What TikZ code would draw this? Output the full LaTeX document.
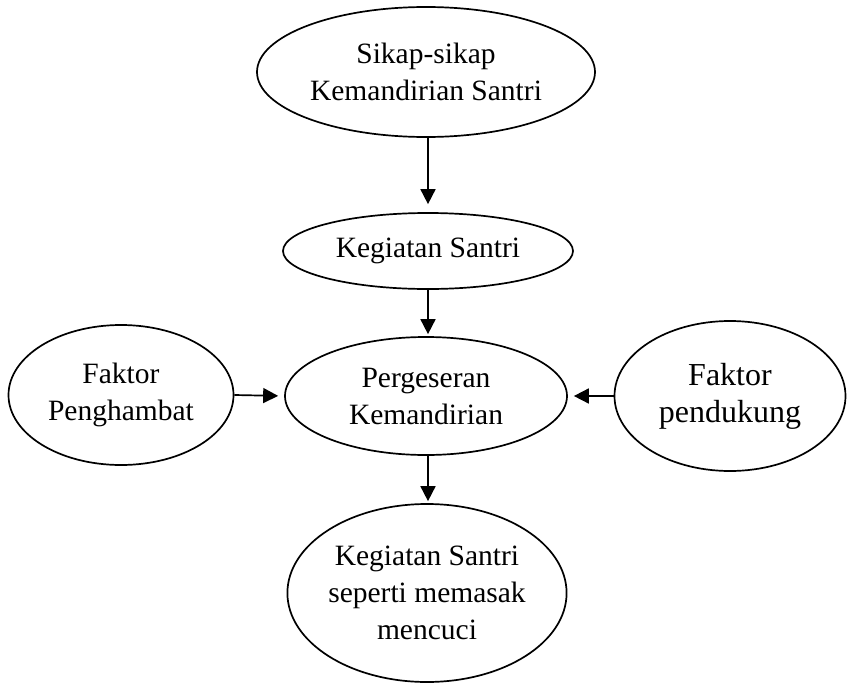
\documentclass[tikz,border=0pt]{standalone}
\usepackage{fontspec}
\setmainfont{Liberation Serif}
\usetikzlibrary{shapes.geometric,arrows.meta}
\begin{document}
\begin{tikzpicture}[x=1pt,y=-1pt,
  oval/.style={draw=black,line width=1.7pt,ellipse,inner sep=0pt,align=center,
    font=\fontsize{29.5}{37}\selectfont},
  flow/.style={line width=1.7pt,-{Triangle[length=15pt,width=15pt]}}]
\useasboundingbox (0,0) rectangle (847,683);
\node[oval,minimum width=338pt,minimum height=130pt] (top) at (426,72) {Sikap-sikap\\Kemandirian Santri};
\node[oval,minimum width=290pt,minimum height=76pt] (keg) at (428,251) {Kegiatan Santri};
\node[oval,minimum width=282pt,minimum height=118pt] (perg) at (426,396) {Pergeseran\\Kemandirian};
\node[oval,minimum width=225pt,minimum height=140pt] (ph) at (121,395) {Faktor\\Penghambat};
\node[oval,minimum width=231pt,minimum height=150pt,font=\fontsize{32}{37}\selectfont] (pd) at (730,396) {Faktor\\pendukung};
\node[oval,minimum width=274pt,minimum height=178pt] (bot) at (427,593) {Kegiatan Santri\\seperti memasak\\mencuci};
\draw[flow,shorten >=8pt] (top.south -| 428,0) -- (keg.north -| 428,0);
\draw[flow,shorten >=2pt] (keg.south -| 428,0) -- (perg.north -| 428,0);
\draw[flow,shorten >=6pt] (ph.east) -- (perg.west);
\draw[flow,shorten >=6pt] (pd.west) -- (perg.east);
\draw[flow,shorten >=2pt] (perg.south -| 428,0) -- (bot.north -| 428,0);
\end{tikzpicture}
\end{document}
